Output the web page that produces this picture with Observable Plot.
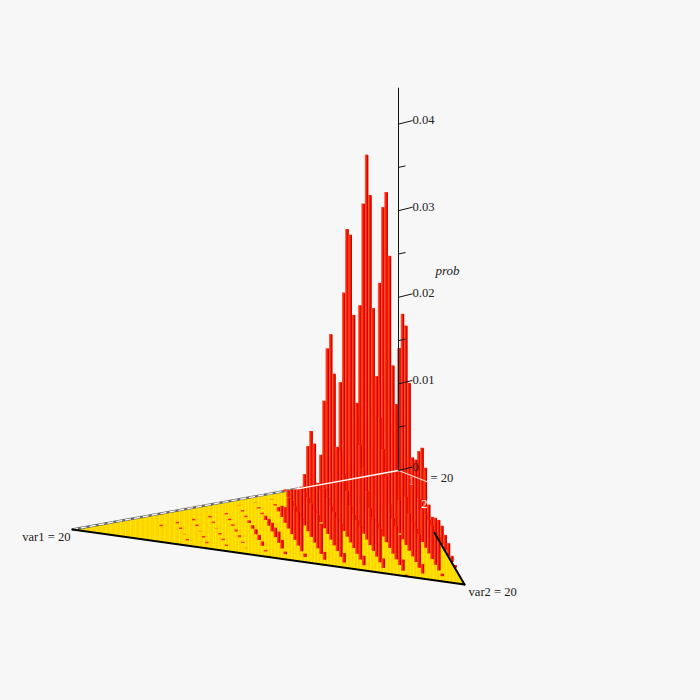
<!DOCTYPE html>
<html>
<head>
<meta charset="utf-8">
<script src="https://cdn.jsdelivr.net/npm/d3@7"></script>
<script src="https://cdn.jsdelivr.net/npm/@observablehq/plot@0.6"></script>
<style>
html,body{margin:0;padding:0;background:#f7f7f7;}
svg{display:block;}
</style>
</head>
<body>
<div id="chart"></div>
<script>
// prob values by var1 (row) and var2 (position in the row)
const var1_0=[.0004,.0012,.0025,.0035,.0035,.0042,.0061,.00715,.0055,.0019,.00115,.0017,.0021,.0021,.0017,.0014,.0006,.0002,0,0,0];
const var1_1=[.0006,.002,.004,.007,.0095,.0177,.0223,.0216,.01565,.0077,.0081,.0042,.0038,.0038,.0038,.0038,.0038,.0038,.0002,0];
const var1_2=[.001,.004,.009,.0125,.0249,.0343,.0367,.03,.018,.0142,.0038,.008,.0055,.0042,.0038,.0038,.0038,.001,0];
const var1_3=[.001,.004,.0085,.022,.0344,.0407,.0367,.0243,.0171,.013,.01,.0075,.005,.004,.0038,.0036,.0012,.0001];
const var1_4=[.001,.004,.0128,.0238,.0318,.0318,.0232,.0137,.0095,.0075,.0055,.0042,.0038,.0038,.0038,.001,0];
const var1_5=[.0002,.0041,.011,.0177,.02,.0161,.0083,.0085,.0065,.0052,.0042,.0038,.0038,.0038,.001,0];
const var1_6=[.0001,.0022,.0061,.0085,.0077,.0038,.0038,.0045,.0042,.0038,.0038,.0038,.0038,.001,0];
const var1_7=[.0001,.0007,.0014,.0021,.0028,.0035,.0038,.0038,.0038,.0038,.0038,.0036,.0008,0];
const var1_8=[0,.00003,.00008,.0004,.0012,.0017,.0035,.0038,.0038,.0038,.0038,.0003,0];
const var1_9=[0,.00003,.00008,.00008,.0004,.0007,.0009,.001,.0012,.0009,.0002,0];
const var1_10=[0,.00003,.00008,.00008,.0002,.0003,.0005,.0005,.0004,.00008,.00005];
const var1_11=[0,0,.00008,.00008,.00008,.00015,.00015,.00005,.00003,0];
const var1_12=[0,0,.00008,.00008,.00003,.00008,.00008,.00006,0];
const var1_13=[0,0,.00008,.00008,.00003,.00008,.00006,0];
const var1_14=[0,0,.00008,.00008,.00003,.00006,0];
const var1_15=[0,0,.00008,0,0,0];
const var1_16=[0,0,0,0,0];
const var1_17=[0,0,0,0];
const var1_18=[0,0,0];
const var1_19=[0,0];
const var1_20=[0];
const probRows=[var1_0,var1_1,var1_2,var1_3,var1_4,var1_5,var1_6,var1_7,var1_8,var1_9,var1_10,var1_11,var1_12,var1_13,var1_14,var1_15,var1_16,var1_17,var1_18,var1_19,var1_20];
const orangeTops=["7,11","3,15"];
const majorTicks=[0,0.01,0.02,0.03,0.04];
const minorTicks=[0.005,0.015,0.025,0.035];
const tickLabels=["0","0.01","0.02","0.03","0.04"];

// axonometric projection of (var1, var2, prob) onto the chart plane
const view={ox:398,oy:470,v1x:-16.3,v1y:2.95,v2x:3.3,v2y:5.7,pz:8660};
const px=(a,b)=>view.ox+view.v1x*a+view.v2x*b;
const py=(a,b,p=0)=>view.oy+view.v1y*a+view.v2y*b-view.pz*p;
const barW=3.3, barShift=-0.65;

const cells=probRows.flatMap((row,a)=>row.map((p,b)=>({a,b,p})));
const bars=cells.filter(d=>d.p>0).sort((u,v)=>py(u.a,u.b)-py(v.a,v.b)||px(u.a,u.b)-px(v.a,v.b));
const faces=bars.flatMap(d=>{
  const x=px(d.a,d.b)+barShift, bot=py(d.a,d.b)+0.6, top=py(d.a,d.b,d.p)-0.2;
  if(d.p<0.00005) return [{x1:x,x2:x+barW,y1:bot,y2:top,c:"#ff9a1c"}];
  if(d.p<0.0002) return [{x1:x,x2:x+barW,y1:bot,y2:top,c:d.p<0.00012?"#ff2a00":"#ff3c00"}];
  const f=[
    {x1:x,x2:x+barW,y1:bot,y2:top,c:"#ff2400"},
    {x1:x+barW*0.62,x2:x+barW,y1:bot,y2:top+0.5,c:"#cf0000"},
    {x1:x,x2:x+0.6,y1:bot,y2:top,c:"#ff6a55"}
  ];
  if(orangeTops.includes(d.a+","+d.b)) f.push({x1:x,x2:x+barW,y1:top+2,y2:top,c:"#ff9a1c"});
  return f;
});

const floor=[{a:0,b:0},{a:20,b:0},{a:0,b:20}];
const hyp=[{a:20,b:0},{a:0,b:20}];
const rightEdge=[{a:0,b:10.9},{a:0,b:20}];
const backGray=[{a:20,b:0},{a:6.2,b:0}];
const backWhite=[{a:6.2,b:0},{a:0,b:0}];
const leader=[{a:0,b:0},{a:-1.2,b:2.55}];
const X=d=>px(d.a,d.b), Y=d=>py(d.a,d.b);

// lighter floor strips: wider apart towards the var1 tip
const stripeX=[...d3.range(76,215,4.9),...d3.range(215,464,3.3)];
const hypY=x=>{const t=(x-px(20,0))/(px(0,20)-px(20,0));return py(20,0)+t*(py(0,20)-py(20,0));};
const backY=x=>{
  if(x<=view.ox){const t=(view.ox-x)/(view.ox-px(20,0));return view.oy+t*(py(20,0)-view.oy);}
  const t=(x-view.ox)/(px(0,20)-view.ox);return view.oy+t*(py(0,20)-view.oy);
};

const axisX=view.ox, axisLen=0.0442;
const serif="'Liberation Serif','Times New Roman',serif";
const fs=12.6;

const chart=Plot.plot({
  width:700,height:700,margin:0,
  style:{background:"#f7f7f7",fontFamily:serif,fontSize:"12px",color:"#222"},
  x:{domain:[0,700],range:[0,700],axis:null},
  y:{domain:[0,700],range:[0,700],axis:null},
  color:{type:"identity"},
  marks:[
    Plot.line(floor,{x:X,y:Y,fill:"#ffd500",stroke:"none"}),
    Plot.link(stripeX,{x1:d=>d,x2:d=>d,y1:backY,y2:hypY,stroke:"#ffec00",strokeWidth:1}),
    Plot.line(backGray,{x:X,y:Y,stroke:"#666",strokeWidth:2.4}),
    Plot.line(backGray,{x:X,y:Y,stroke:"#fff",strokeWidth:1.2,strokeDasharray:"5,4"}),
    Plot.rect(faces,{x1:"x1",x2:"x2",y1:"y1",y2:"y2",fill:"c",inset:0}),
    Plot.line(backWhite,{x:X,y:Y,stroke:"#fff",strokeWidth:1.3}),
    Plot.line(leader,{x:X,y:Y,stroke:"#ffd8d0",strokeWidth:1.3}),
    Plot.line(hyp,{x:X,y:Y,stroke:"#000",strokeWidth:2}),
    Plot.line(rightEdge,{x:X,y:Y,stroke:"#000",strokeWidth:2}),
    Plot.link([0],{x1:axisX,x2:axisX,y1:()=>py(0,0),y2:()=>py(0,0,axisLen),stroke:"#111",strokeWidth:1}),
    Plot.link(majorTicks,{x1:axisX,x2:axisX+14,y1:d=>py(0,0,d),y2:d=>py(0,0,d)-3.5,stroke:"#111",strokeWidth:1}),
    Plot.link(minorTicks,{x1:axisX,x2:axisX+7,y1:d=>py(0,0,d),y2:d=>py(0,0,d)-1.5,stroke:"#111",strokeWidth:1}),
    Plot.text(majorTicks,{x:axisX+14,y:d=>py(0,0,d)-4,text:(d,i)=>tickLabels[i],textAnchor:"start",fill:"#222",fontFamily:serif,fontSize:fs}),
    Plot.text(["prob"],{x:axisX+49,y:()=>py(0,0,0.0230),text:d=>d,fontStyle:"italic",textAnchor:"middle",fill:"#222",fontFamily:serif,fontSize:13}),
    Plot.text(["var1 = 20"],{x:()=>px(20,0),y:()=>py(20,0),dx:-2,dy:7,text:d=>d,textAnchor:"end",fill:"#222",fontFamily:serif,fontSize:fs}),
    Plot.text(["var2 = 20"],{x:()=>px(0,20),y:()=>py(0,20),dx:4,dy:7,text:d=>d,textAnchor:"start",fill:"#222",fontFamily:serif,fontSize:fs}),
    Plot.text(["= 20"],{x:()=>px(-1.2,2.55),y:()=>py(-1.2,2.55),dx:4,dy:-4,text:d=>d,textAnchor:"start",fill:"#222",fontFamily:serif,fontSize:fs}),
    Plot.text(["1"],{x:()=>px(-.4,1.96),y:()=>py(-.4,1.96),text:d=>d,fill:"#ff9a8a",fontFamily:serif,fontSize:fs}),
    Plot.text(["2"],{x:()=>px(-.38,5.99),y:()=>py(-.38,5.99),text:d=>d,fill:"#fff",fontFamily:serif,fontSize:fs})
  ]
});
document.getElementById("chart").appendChild(chart);
</script>
</body>
</html>
